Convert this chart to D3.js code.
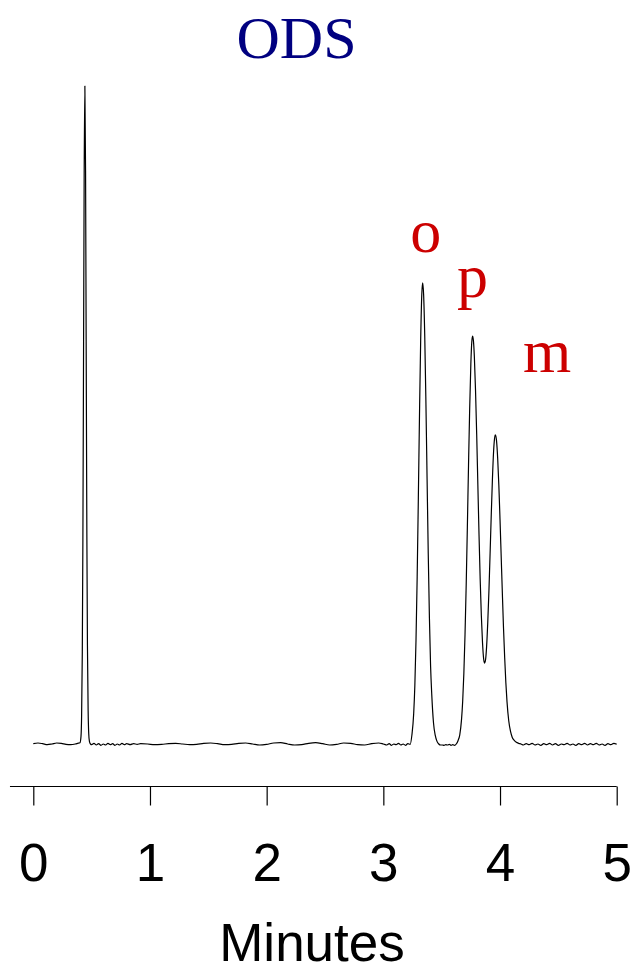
<!DOCTYPE html>
<html>
<head>
<meta charset="utf-8">
<script src="https://cdn.jsdelivr.net/npm/d3@7"></script>
<style>
  body { margin: 0; background: #fff; }
  svg { display: block; }
</style>
</head>
<body>
<svg id="chart" width="633" height="970"></svg>
<script>
// retention time (minutes)
const times = [
  0.00, 0.04, 0.08, 0.12, 0.16, 0.20, 0.24, 0.28, 0.32, 0.36, 0.38,
  // dead-volume peak
  0.400, 0.409, 0.414, 0.420, 0.425, 0.431, 0.436, 0.442, 0.448, 0.453, 0.459, 0.464, 0.470, 0.475, 0.481, 0.490,
  0.50, 0.52, 0.54, 0.56, 0.58, 0.60, 0.62, 0.64, 0.66, 0.68, 0.70, 0.72, 0.74, 0.76, 0.78, 0.80,
  0.83, 0.86, 0.89, 0.92, 0.98, 1.04, 1.10, 1.16, 1.22, 1.28, 1.34, 1.40, 1.46, 1.52, 1.58, 1.64,
  1.70, 1.76, 1.82, 1.88, 1.94, 2.00, 2.06, 2.12, 2.18, 2.24, 2.30, 2.36, 2.42, 2.48, 2.54, 2.60,
  2.66, 2.72, 2.78, 2.84, 2.90, 2.96, 3.00, 3.03, 3.05, 3.07, 3.09, 3.11, 3.13, 3.15, 3.17, 3.19,
  3.21, 3.23,
  // o peak
  3.245, 3.26, 3.27, 3.28, 3.29, 3.30, 3.31, 3.32, 3.33, 3.337, 3.345, 3.355, 3.365, 3.375, 3.385,
  3.395, 3.405, 3.415, 3.43, 3.445, 3.46, 3.475, 3.49,
  3.505, 3.52, 3.535, 3.55, 3.565, 3.58, 3.595, 3.61, 3.625,
  // p and m peaks
  3.64, 3.655, 3.67, 3.68, 3.69, 3.70, 3.71, 3.72, 3.73, 3.74, 3.75, 3.758, 3.765, 3.772, 3.78,
  3.79, 3.80, 3.81, 3.82, 3.83, 3.84, 3.85, 3.86, 3.868, 3.876, 3.885, 3.895, 3.905, 3.915, 3.925,
  3.935, 3.945, 3.953, 3.960, 3.97, 3.98, 3.99, 4.00, 4.01, 4.02, 4.03, 4.04, 4.05, 4.06, 4.075,
  4.09, 4.105, 4.12, 4.14, 4.16, 4.18,
  4.20, 4.225, 4.25, 4.275, 4.30, 4.325, 4.35, 4.375, 4.40, 4.425, 4.45, 4.475, 4.50, 4.525, 4.55,
  4.575, 4.60, 4.625, 4.65, 4.675, 4.70, 4.725, 4.75, 4.775, 4.80, 4.825, 4.85, 4.875, 4.90, 4.925,
  4.95, 4.975, 5.00
];

// detector signal (dead peak top = 100)
const signal = [
  0.05, 0.15, 0.05, -0.1, 0.0, 0.15, 0.1, -0.05, -0.1, 0.0, 0.1,
  0.2, 1.2, 4.2, 14.0, 31.0, 61.2, 86.5, 100, 87.0, 61.5, 32.0, 15.0, 5.0, 1.6, 0.4, 0.0,
  -0.1, 0.1, -0.15, 0.05, -0.2, 0.0, -0.15, 0.1, -0.1, 0.05, -0.2, 0.0, -0.15, 0.1, -0.1, 0.05,
  -0.1, 0.05, -0.05, 0.05, 0.0, -0.1, -0.05, 0.05, 0.1, 0.0, -0.1, -0.05, 0.1, 0.15, 0.05, -0.1,
  -0.05, 0.1, 0.15, 0.0, -0.15, -0.05, 0.15, 0.2, 0.0, -0.15, -0.1, 0.1, 0.2, 0.05, -0.15, -0.05,
  0.15, 0.1, -0.1, -0.15, 0.05, 0.15, 0.0, -0.15, 0.05, -0.2, 0.0, -0.1, 0.1, -0.15, 0.0, -0.2,
  0.05, -0.05,
  1.4, 4.6, 8.9, 15.8, 25.4, 37.4, 50.2, 61.4, 68.5, 70.1, 68.4, 61.9, 51.8, 40.2, 28.8,
  19.1, 11.8, 7.5, 3.2, 1.3, 0.4, 0.0, -0.15,
  -0.15, -0.2, -0.1, -0.15, -0.05, -0.2, -0.1, -0.2, 0.0,
  0.5, 1.4, 3.7, 6.5, 10.7, 16.6, 24.1, 32.9, 42.3, 51.0, 57.8, 61.1, 62.0, 61.3, 58.9,
  53.8, 47.1, 39.4, 31.8, 25.0, 19.5, 15.4, 12.9, 12.3, 12.8, 14.8, 18.5, 23.3, 29.0, 34.9,
  40.3, 44.5, 46.4, 47.0, 46.1, 43.4, 39.3, 34.1, 28.5, 22.9, 17.6, 13.1, 9.3, 6.4, 3.5,
  1.9, 1.0, 0.6, 0.25, 0.1, 0.0,
  -0.15, 0.05, -0.1, 0.1, -0.15, 0.0, -0.2, 0.05, -0.1, 0.1, -0.15, 0.05, -0.2, 0.0, -0.1,
  0.1, -0.15, 0.0, -0.2, 0.05, -0.1, 0.1, -0.15, 0.05, -0.1, 0.1, -0.15, 0.0, -0.2, 0.05,
  -0.1, 0.1, -0.05
];

const tickValues = [0, 1, 2, 3, 4, 5];
const xLabel = 'Minutes';
const title = 'ODS';

// isomer labels placed in data coordinates (minutes, signal)
const peakNames = ['o', 'p', 'm'];
const peakLabelTimes = [3.363, 3.764, 4.404];
const peakLabelSignal = [74.8, 67.9, 56.6];

const svg = d3.select('#chart');

const x = d3.scaleLinear().domain([0, 5]).range([33.3, 616.7]);
const y = d3.scaleLinear().domain([0, 100]).range([744, 86]);
const axisY = 786.5;

const trace = times.map((t, i) => ({ t: t, s: signal[i] }));

const line = d3.line()
  .x(d => x(d.t))
  .y(d => y(d.s))
  .curve(d3.curveMonotoneX);

svg.append('path')
  .datum(trace)
  .attr('d', line)
  .attr('fill', 'none')
  .attr('stroke', '#000')
  .attr('stroke-width', 1.2)
  .attr('stroke-linejoin', 'round');

// x axis
const gx = svg.append('g')
  .attr('transform', `translate(0,${axisY})`)
  .call(d3.axisBottom(x).tickValues(tickValues).tickFormat(d3.format('d')).tickSize(19).tickSizeOuter(0));

gx.select('.domain').remove();
gx.selectAll('.tick line').attr('stroke', '#000').attr('stroke-width', 1.2);
gx.selectAll('.tick text')
  .attr('dy', null)
  .attr('y', 94.5)
  .attr('fill', '#000')
  .style('font-family', '"Liberation Sans", Arial, sans-serif')
  .style('font-size', '53px');

gx.append('line')
  .attr('x1', x(-0.2))
  .attr('x2', x(5))
  .attr('stroke', '#000')
  .attr('stroke-width', 1.2);

svg.append('text')
  .attr('x', 312)
  .attr('y', 961)
  .attr('text-anchor', 'middle')
  .style('font-family', '"Liberation Sans", Arial, sans-serif')
  .style('font-size', '53px')
  .text(xLabel);

svg.append('text')
  .attr('x', 296.5)
  .attr('y', 58)
  .attr('text-anchor', 'middle')
  .attr('fill', '#000080')
  .style('font-family', '"Liberation Serif", "Times New Roman", serif')
  .style('font-size', '60px')
  .text(title);

svg.selectAll('.peak-label')
  .data(peakNames)
  .enter()
  .append('text')
  .attr('class', 'peak-label')
  .attr('x', (d, i) => x(peakLabelTimes[i]))
  .attr('y', (d, i) => y(peakLabelSignal[i]))
  .attr('text-anchor', 'middle')
  .attr('fill', '#cc0000')
  .style('font-family', '"Liberation Serif", "Times New Roman", serif')
  .style('font-size', '62px')
  .text(d => d);
</script>
</body>
</html>
